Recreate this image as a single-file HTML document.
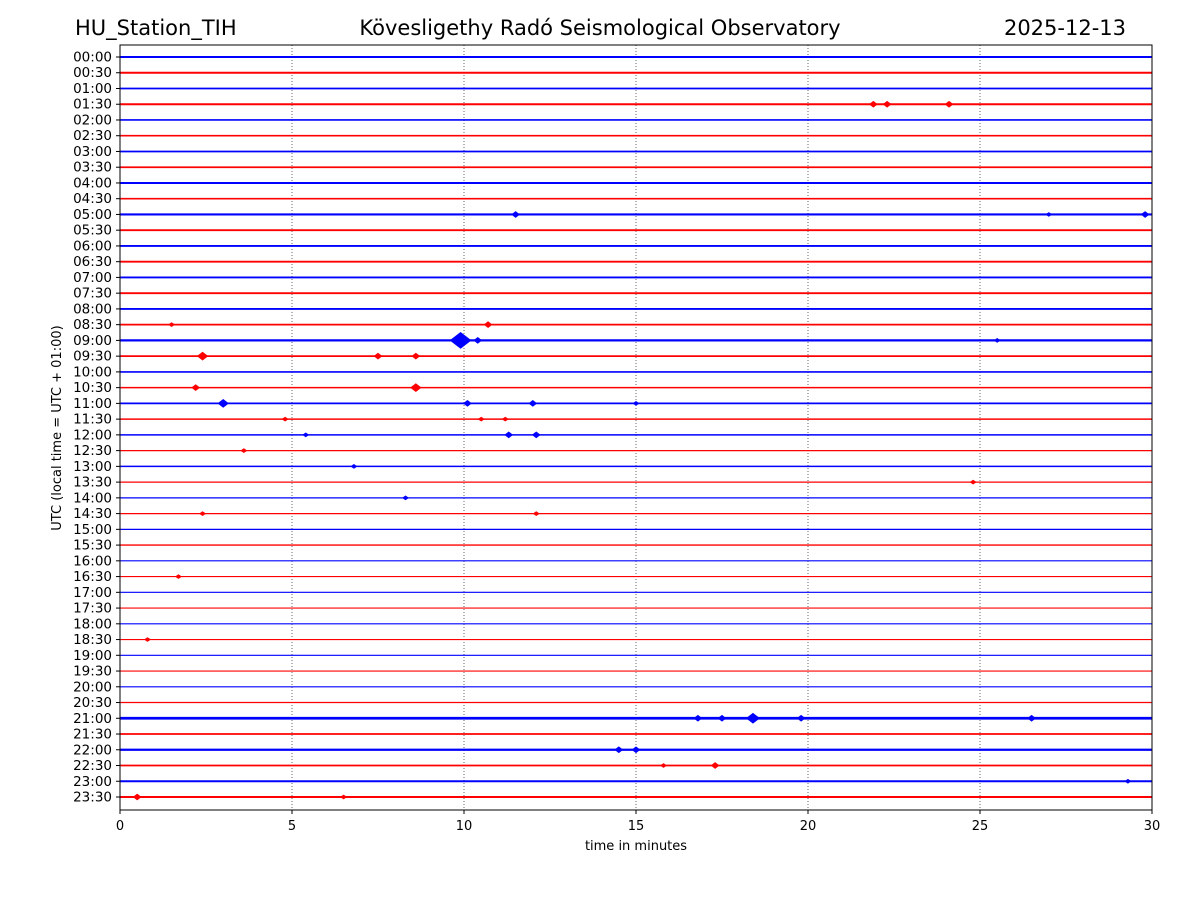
<!DOCTYPE html>
<html><head><meta charset="utf-8"><style>
body{margin:0;background:#fff;}
svg{display:block;font-family:"DejaVu Sans","Liberation Sans",sans-serif;}
</style></head><body>
<svg id="chart" width="1200" height="900" viewBox="0 0 1200 900">
<text x="75" y="35" font-size="21">HU_Station_TIH</text>
<text x="600" y="35" font-size="21" text-anchor="middle">Kövesligethy Radó Seismological Observatory</text>
<text x="1126" y="35" font-size="21" text-anchor="end">2025-12-13</text>
<g id="grid"></g>
<g id="traces"></g>
<rect x="120" y="45" width="1032" height="765" fill="none" stroke="#000" stroke-width="1"/>
<g id="axes"></g>
<text x="636" y="850" font-size="13" text-anchor="middle">time in minutes</text>
<text transform="translate(61,428) rotate(-90)" font-size="13" text-anchor="middle">UTC (local time = UTC + 01:00)</text>
</svg>
<script>
const rowLabels = [];
for (let h = 0; h < 24; h++) { const hh = String(h).padStart(2,'0'); rowLabels.push(hh+':00', hh+':30'); }
const xTicks = [0,5,10,15,20,25,30];
const noiseLevel = [2,2,1.8,2,1.6,1.6,1.8,1.8,2,1.6,2.2,1.8,1.8,1.8,1.8,1.8,1.8,1.8,2.2,1.8,1.6,1.5,1.8,1.5,1.5,1.3,1.5,1.3,1.3,1.3,1.3,1.3,1.2,1.2,1.2,1.1,1.1,1.2,1.1,1.1,1.1,1.3,2.8,1.8,2.2,1.8,2,2];
const eventRow = [3,3,3,10,10,10,17,17,18,18,18,19,19,19,21,21,22,22,22,22,23,23,23,24,24,24,25,26,27,28,29,29,33,37,42,42,42,42,42,44,44,45,45,46,47,47];
const eventMin = [21.9,22.3,24.1,11.5,27,29.8,10.7,1.5,9.9,10.4,25.5,2.4,7.5,8.6,2.2,8.6,3,10.1,12,15,4.8,10.5,11.2,5.4,11.3,12.1,3.6,6.8,24.8,8.3,2.4,12.1,1.7,0.8,16.8,17.5,18.4,19.8,26.5,14.5,15,15.8,17.3,29.3,0.5,6.5];
const eventAmp = [3,3,3,3,2,3,3,2,8,3,2,4,3,3,3,4,4,3,3,2,2,2,2,2,3,3,2,2,2,2,2,2,2,2,3,3,5,3,3,3,3,2,3,2,3,2];

const NS='http://www.w3.org/2000/svg';
const X0=120,X1=1152,Y0=57,Y1=797;
const xs = m => X0 + (X1-X0)*m/30;
const ys = i => Y0 + (Y1-Y0)*i/(rowLabels.length-1);
const colorOf = i => i%2===0 ? '#0000ff' : '#ff0000';
function mk(tag, attrs, parent){ const e=document.createElementNS(NS,tag); for(const k in attrs) e.setAttribute(k,attrs[k]); parent.appendChild(e); return e; }

const grid=document.getElementById('grid');
xTicks.forEach(t=>{ if(t>0&&t<30){
  const l=mk('line',{x1:xs(t),x2:xs(t),y1:45,y2:810,stroke:'#000','stroke-width':0.6,'stroke-dasharray':'1,2'},grid);
  
  
}});

const tr=document.getElementById('traces');
rowLabels.forEach((lab,i)=>{
  const l=mk('line',{x1:X0,x2:X1,y1:ys(i),y2:ys(i),stroke:colorOf(i),'stroke-width':noiseLevel[i]},tr);
  
  
});
eventRow.forEach((r,k)=>{
  const cx=xs(eventMin[k]), cy=ys(r), a=eventAmp[k], w=Math.max(3,a*1.3);
  const p=mk('polygon',{points:`${cx-w},${cy} ${cx},${cy-a} ${cx+w},${cy} ${cx},${cy+a}`,fill:colorOf(r),stroke:colorOf(r),'stroke-width':0.6},tr);
  
  
});

const ax=document.getElementById('axes');
rowLabels.forEach((lab,i)=>{
  const t=mk('line',{x1:116,x2:120,y1:ys(i),y2:ys(i),stroke:'#000'},ax);
  
  
  const tx=mk('text',{x:112,y:ys(i)+4.5,'font-size':13.5,'text-anchor':'end'},ax);
  tx.textContent=lab;
  
  
});
xTicks.forEach(t=>{
  const l=mk('line',{x1:xs(t),x2:xs(t),y1:810,y2:814,stroke:'#000'},ax);
  
  
  const tx=mk('text',{x:xs(t),y:830,'font-size':13,'text-anchor':'middle'},ax);
  tx.textContent=t;
  
  
});
</script>
</body></html>
